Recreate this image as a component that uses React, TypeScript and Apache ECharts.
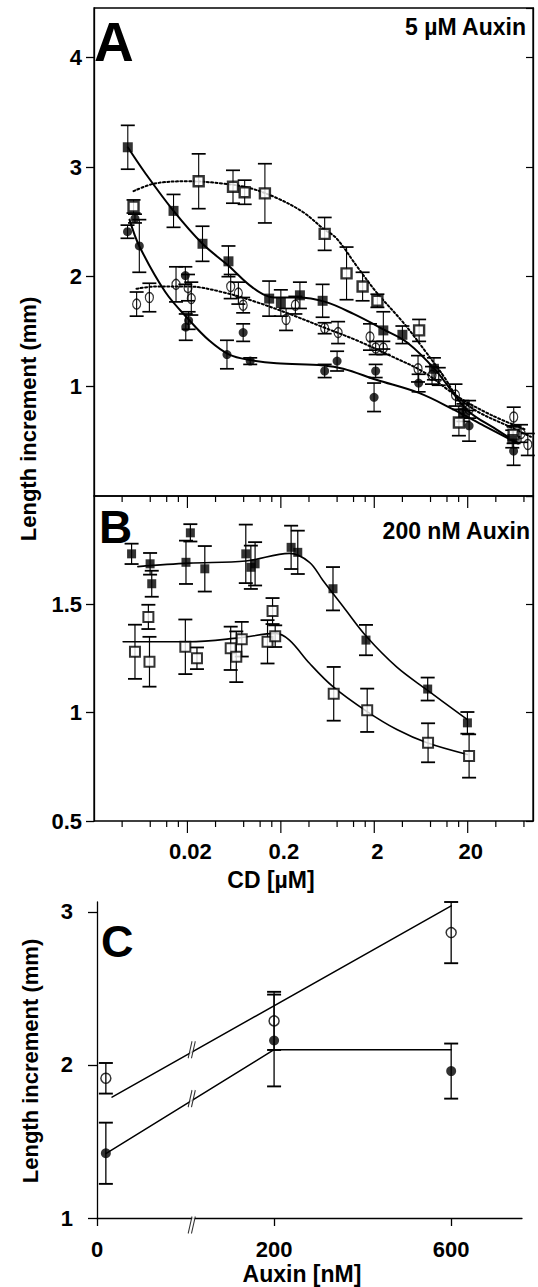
import React, { useEffect, useRef } from "react";
import * as echarts from "echarts";

// ---------------- Panel A : 5 µM Auxin (CD in µM, length increment in mm) ----------------
const aFilledSqCD = [0.0046, 0.0142, 0.029, 0.055, 0.15, 0.2, 0.32, 0.56, 2.5, 4.0, 8.7, 18, 60];
const aFilledSqLen = [3.18, 2.6, 2.3, 2.14, 1.8, 1.76, 1.83, 1.78, 1.51, 1.47, 1.16, 0.76, 0.52];
const aFilledSqErr = [0.2, 0.15, 0.16, 0.14, 0.16, 0.12, 0.12, 0.15, 0.17, 0.08, 0.1, 0.08, 0.08];

const aOpenSqCD = [0.0053, 0.0264, 0.0615, 0.082, 0.135, 0.589, 1.01, 1.5, 2.16, 6.04, 16.1, 62];
const aOpenSqLen = [2.64, 2.87, 2.82, 2.77, 2.76, 2.39, 2.03, 1.91, 1.78, 1.51, 0.67, 0.56];
const aOpenSqErr = [0.06, 0.25, 0.15, 0.11, 0.27, 0.15, 0.24, 0.13, 0.06, 0.1, 0.12, 0.08];

const aFilledCiCD = [0.00457, 0.00549, 0.00611, 0.019, 0.0206, 0.0192, 0.053, 0.079, 0.094, 0.589, 0.8, 2.07, 1.99, 5.97, 20.7, 62];
const aFilledCiLen = [2.41, 2.53, 2.28, 2.01, 1.6, 1.54, 1.29, 1.49, 1.23, 1.14, 1.23, 1.14, 0.9, 1.03, 0.64, 0.41];
const aFilledCiErr = [0.06, 0.04, 0.24, 0.08, 0.08, 0.12, 0.13, 0.08, 0.03, 0.06, 0.09, 0.06, 0.13, 0.08, 0.14, 0.13];

const aOpenCiCD = [0.00572, 0.00783, 0.0151, 0.0203, 0.022, 0.0581, 0.0702, 0.079, 0.2275, 0.286, 0.589, 0.82, 1.8, 2.07, 2.5, 5.88, 8.3, 9.8, 14.8, 17.5, 20.7, 62.2, 74.4, 88];
const aOpenCiLen = [1.75, 1.81, 1.93, 1.9, 1.8, 1.91, 1.85, 1.74, 1.61, 1.74, 1.53, 1.49, 1.45, 1.35, 1.35, 1.16, 1.1, 1.09, 0.92, 0.79, 0.79, 0.72, 0.57, 0.47];
const aOpenCiErr = [0.11, 0.13, 0.16, 0.12, 0.15, 0.11, 0.1, 0.07, 0.1, 0.08, 0.05, 0.1, 0.12, 0.06, 0.06, 0.12, 0.08, 0.08, 0.1, 0.08, 0.08, 0.09, 0.08, 0.1];

// fitted curves, panel A
const aSqCurveCD = [0.0046, 0.007, 0.0142, 0.029, 0.055, 0.1, 0.17, 0.3, 0.6, 1.2, 2.5, 4.5, 9, 20, 40, 70];
const aSqCurveLen = [3.18, 2.95, 2.6, 2.3, 2.1, 1.9, 1.81, 1.81, 1.77, 1.66, 1.52, 1.4, 1.15, 0.78, 0.61, 0.48];
const aCiCurveCD = [0.0048, 0.0061, 0.0116, 0.0206, 0.034, 0.056, 0.094, 0.18, 0.57, 0.93, 2.1, 6, 14, 30, 68];
const aCiCurveLen = [2.52, 2.28, 1.86, 1.61, 1.42, 1.29, 1.24, 1.21, 1.19, 1.16, 1.06, 0.94, 0.79, 0.64, 0.48];
const aOpenSqCurveCD = [0.0053, 0.009, 0.0206, 0.047, 0.091, 0.178, 0.344, 0.565, 0.787, 1.29, 2.1, 4.1, 6.76, 11.1, 15.4, 25.5, 53.6, 95];
const aOpenSqCurveLen = [2.78, 2.85, 2.87, 2.85, 2.81, 2.72, 2.59, 2.44, 2.35, 2.1, 1.86, 1.58, 1.34, 1.09, 0.91, 0.77, 0.64, 0.54];
const aOpenCiCurveCD = [0.0057, 0.009, 0.0206, 0.047, 0.108, 0.247, 0.565, 1.29, 2.96, 6.76, 15.4, 35.4, 81];
const aOpenCiCurveLen = [1.89, 1.91, 1.91, 1.86, 1.77, 1.66, 1.54, 1.42, 1.28, 1.13, 0.91, 0.74, 0.61];

// ---------------- Panel B : 200 nM Auxin ----------------
const bFilledCD = [0.00505, 0.00797, 0.0083, 0.0193, 0.0215, 0.0307, 0.0843, 0.0955, 0.106, 0.2576, 0.3035, 0.723, 1.63, 7.46, 19.86];
const bFilledLen = [1.733, 1.687, 1.595, 1.694, 1.83, 1.664, 1.733, 1.671, 1.687, 1.763, 1.74, 1.572, 1.335, 1.109, 0.953];
const bFilledErr = [0.047, 0.05, 0.06, 0.1, 0.04, 0.105, 0.135, 0.1, 0.1, 0.1, 0.1, 0.1, 0.07, 0.053, 0.05];

const bOpenCD = [0.00549, 0.00764, 0.00785, 0.019, 0.0253, 0.0581, 0.0667, 0.0763, 0.144, 0.163, 0.174, 0.736, 1.68, 7.53, 20.7];
const bOpenLen = [1.281, 1.442, 1.235, 1.304, 1.251, 1.297, 1.258, 1.339, 1.327, 1.469, 1.353, 1.087, 1.011, 0.861, 0.8];
const bOpenErr = [0.125, 0.056, 0.115, 0.126, 0.05, 0.1, 0.117, 0.08, 0.1, 0.06, 0.05, 0.124, 0.1, 0.09, 0.1];

const bUpperCurveCD = [0.0059, 0.0206, 0.0843, 0.247, 0.405, 0.565, 0.927, 1.66, 3.49, 7.34, 19.86];
const bUpperCurveLen = [1.674, 1.69, 1.7, 1.735, 1.694, 1.61, 1.49, 1.35, 1.21, 1.105, 0.968];
const bLowerCurveCD = [0.0041, 0.0206, 0.0714, 0.1775, 0.247, 0.405, 0.723, 1.66, 3.49, 7.34, 19.86];
const bLowerCurveLen = [1.327, 1.327, 1.345, 1.366, 1.335, 1.228, 1.12, 1.006, 0.922, 0.861, 0.807];

// CD axis ticks
const cdMajorTicks = [0.02, 0.2, 2, 20];
const cdTickLabels = ["0.02", "0.2", "2", "20"];
const cdMinorTicks = [0.004, 0.008, 0.012, 0.016, 0.04, 0.08, 0.12, 0.16, 0.4, 0.8, 1.2, 1.6, 4, 8, 12, 16, 40, 80];

// ---------------- Panel C : auxin dose (nM) ----------------
const cAuxin = [10, 200, 600];
const cOpenLen = [1.913, 2.288, 2.865];
const cOpenErr = [0.1, 0.19, 0.2];
const cFilledLen = [1.423, 2.16, 1.96];
const cFilledErr = [0.2, 0.3, 0.18];
const cUpperLineAuxin = [17, 600];
const cUpperLineLen = [1.79, 3.04];
const cLowerLineAuxin = [10, 200, 600];
const cLowerLineLen = [1.42, 2.1, 2.1];
const cBreakAuxin = 107;
const cBreakLen = [2.1, 1.78];
const cAuxinTicks = [0, 200, 600];
const cAuxinLabels = ["0", "200", "600"];
const cLenTicks = [1, 2, 3];

// ---------------- helpers ----------------
const FONT = '"Liberation Sans", Arial, Helvetica, sans-serif';
const CD_MIN = 0.002;
const CD_MAX = 100;
const A_MAX = 4.45;
const B_MIN = 0.5;
const B_MAX = 2.0;
const C_MIN = 1;
const C_MAX = 3.065;

// broken auxin axis: 0–200 nM and 200–600 nM get equal room
const auxinToAxis = (n: number) => (n <= 200 ? n / 200 : 1 + (n - 200) / 400);

const pts = (xs: number[], ys: number[]) => xs.map((x, i) => [x, ys[i]]);
const errPts = (xs: number[], ys: number[], es: number[]) => xs.map((x, i) => [x, ys[i], es[i]]);

function curve(xi: number, yi: number, data: number[][], dotted: boolean, width = 2, smooth: number | boolean = 0.35) {
  return {
    type: "line",
    xAxisIndex: xi,
    yAxisIndex: yi,
    data,
    smooth,
    symbol: "none",
    showSymbol: false,
    silent: true,
    z: 2,
    lineStyle: { color: "#000", width, type: dotted ? [2, 2.4] : "solid", cap: "round" },
  };
}

function errBars(xi: number, yi: number, data: number[][], cap = 7, w = 1.1) {
  return {
    type: "custom",
    xAxisIndex: xi,
    yAxisIndex: yi,
    data,
    silent: true,
    z: 3,
    encode: { x: 0, y: 1 },
    renderItem: (_p: any, api: any) => {
      const x = api.value(0);
      const y = api.value(1);
      const e = api.value(2);
      const hi = api.coord([x, y + e]);
      const lo = api.coord([x, y - e]);
      const s = { stroke: "#000", lineWidth: w };
      const sc = { stroke: "#000", lineWidth: w + 0.6 };
      return {
        type: "group",
        children: [
          { type: "line", shape: { x1: hi[0], y1: hi[1], x2: lo[0], y2: lo[1] }, style: s },
          { type: "line", shape: { x1: hi[0] - cap, y1: hi[1], x2: hi[0] + cap, y2: hi[1] }, style: sc },
          { type: "line", shape: { x1: lo[0] - cap, y1: lo[1], x2: lo[0] + cap, y2: lo[1] }, style: sc },
        ],
      };
    },
  };
}

function marks(xi: number, yi: number, data: number[][], symbol: string, size: number | number[], filled: boolean, bw = 1.5, fill = "#fff") {
  return {
    type: "scatter",
    xAxisIndex: xi,
    yAxisIndex: yi,
    data,
    symbol,
    symbolSize: size,
    silent: true,
    z: 4,
    itemStyle: filled ? { color: "#000", borderWidth: 0 } : { color: fill, borderColor: "#000", borderWidth: bw },
  };
}

function buildOption() {
  const axisLine = { show: true, lineStyle: { color: "#000", width: 1.3 } };
  const labelStyle = { color: "#000", fontFamily: FONT, fontWeight: "bold", fontSize: 22 };
  const hiddenLog = (gridIndex: number) => ({
    gridIndex,
    type: "log",
    logBase: 10,
    min: CD_MIN,
    max: CD_MAX,
    axisLine: { show: false },
    axisTick: { show: false },
    axisLabel: { show: false },
    splitLine: { show: false },
  });

  const tickData = [
    ...cdMajorTicks.map((v, i) => [v, 1.25, 1, i]),
    ...cdMinorTicks.map((v) => [v, 1.25, 0, -1]),
  ];

  const cBreakPts = cBreakLen.map((y) => [auxinToAxis(cBreakAuxin), y]);
  const cAxisBreak = [[auxinToAxis(cBreakAuxin), C_MIN]];
  const slashPath = "path://M0,20L7,0M6,20L13,0";
  const maskPath = "path://M0,20L7,0L13,0L6,20Z";
  const cTickPos = cAuxinTicks.map(auxinToAxis);
  const breakData = () => [...cBreakPts, ...cAxisBreak.map((p) => ({ value: p, symbolOffset: [0, 7] }))];

  const bigText = (text: string, x: number, y: number, size: number, align = "left", rotation = 0) => ({
    type: "text",
    x,
    y,
    rotation,
    silent: true,
    style: { text, fill: "#000", font: `bold ${size}px ${FONT}`, align, verticalAlign: "middle" },
  });

  return {
    animation: false,
    backgroundColor: "#fff",
    grid: [
      { left: 94, top: 8, width: 439, height: 488, show: true, borderColor: "#000", borderWidth: 1.3, backgroundColor: "transparent" },
      { left: 94, top: 496, width: 439, height: 325, show: true, borderColor: "#000", borderWidth: 1.3, backgroundColor: "transparent" },
      { left: 97, top: 902, width: 425, height: 316, show: false },
    ],
    xAxis: [
      hiddenLog(0),
      hiddenLog(1),
      {
        gridIndex: 2,
        type: "value",
        min: 0,
        max: 2.4,
        interval: 1,
        axisLine,
        axisTick: { show: true, length: 8, lineStyle: { color: "#000", width: 1.3 }, customValues: cTickPos },
        axisLabel: {
          ...labelStyle,
          margin: 20,
          customValues: cTickPos,
          formatter: (v: number) => {
            const i = cTickPos.findIndex((p) => Math.abs(p - v) < 1e-6);
            return i >= 0 ? cAuxinLabels[i] : "";
          },
        },
        splitLine: { show: false },
      },
    ],
    yAxis: [
      {
        gridIndex: 0,
        type: "value",
        min: 0,
        max: A_MAX,
        interval: 1,
        axisLine,
        axisTick: { show: true, length: 8, lineStyle: { color: "#000", width: 1.3 } },
        axisLabel: { ...labelStyle, margin: 12, showMinLabel: false, showMaxLabel: false },
        splitLine: { show: false },
      },
      {
        gridIndex: 0,
        type: "value",
        position: "right",
        min: 0,
        max: A_MAX,
        interval: 1,
        axisLine,
        axisTick: { show: true, inside: true, length: 7, lineStyle: { color: "#000", width: 1.2 } },
        axisLabel: { show: false },
        splitLine: { show: false },
      },
      {
        gridIndex: 1,
        type: "value",
        min: B_MIN,
        max: B_MAX,
        interval: 0.5,
        axisLine,
        axisTick: { show: true, length: 8, lineStyle: { color: "#000", width: 1.3 } },
        axisLabel: { ...labelStyle, margin: 12, showMaxLabel: false },
        splitLine: { show: false },
      },
      {
        gridIndex: 1,
        type: "value",
        position: "right",
        min: B_MIN,
        max: B_MAX,
        interval: 0.5,
        axisLine,
        axisTick: { show: true, inside: true, length: 7, lineStyle: { color: "#000", width: 1.2 } },
        axisLabel: { show: false },
        splitLine: { show: false },
      },
      {
        gridIndex: 2,
        type: "value",
        min: C_MIN,
        max: C_MAX,
        interval: 1,
        axisLine,
        axisTick: { show: true, length: 9, lineStyle: { color: "#000", width: 1.3 }, customValues: cLenTicks },
        axisLabel: { ...labelStyle, margin: 24, customValues: cLenTicks },
        splitLine: { show: false },
      },
    ],
    series: [
      // ---- A curves
      curve(0, 0, pts(aSqCurveCD, aSqCurveLen), false, 2),
      curve(0, 0, pts(aCiCurveCD, aCiCurveLen), false, 2),
      curve(0, 0, pts(aOpenSqCurveCD, aOpenSqCurveLen), true, 2),
      curve(0, 0, pts(aOpenCiCurveCD, aOpenCiCurveLen), true, 2),
      // ---- A error bars
      errBars(0, 0, errPts(aFilledSqCD, aFilledSqLen, aFilledSqErr)),
      errBars(0, 0, errPts(aOpenSqCD, aOpenSqLen, aOpenSqErr)),
      errBars(0, 0, errPts(aFilledCiCD, aFilledCiLen, aFilledCiErr)),
      errBars(0, 0, errPts(aOpenCiCD, aOpenCiLen, aOpenCiErr)),
      // ---- A symbols
      marks(0, 0, pts(aOpenSqCD, aOpenSqLen), "rect", 10, false, 2.4),
      marks(0, 0, pts(aFilledSqCD, aFilledSqLen), "rect", 10, true),
      marks(0, 0, pts(aFilledCiCD, aFilledCiLen), "circle", 9, true),
      marks(0, 0, pts(aOpenCiCD, aOpenCiLen), "circle", [8, 10], false, 1.3, "rgba(255,255,255,0)"),
      // ---- B curves
      curve(1, 2, pts(bUpperCurveCD, bUpperCurveLen), false, 1.6),
      curve(1, 2, pts(bLowerCurveCD, bLowerCurveLen), false, 1.6),
      errBars(1, 2, errPts(bFilledCD, bFilledLen, bFilledErr), 7, 1.2),
      errBars(1, 2, errPts(bOpenCD, bOpenLen, bOpenErr), 7, 1.2),
      marks(1, 2, pts(bOpenCD, bOpenLen), "rect", 10, false, 2),
      marks(1, 2, pts(bFilledCD, bFilledLen), "rect", 9, true),
      // ---- CD axis ticks + labels (shared between A and B)
      {
        type: "custom",
        xAxisIndex: 1,
        yAxisIndex: 2,
        data: tickData,
        silent: true,
        z: 5,
        encode: { x: 0, y: 1 },
        renderItem: (_p: any, api: any) => {
          const v = api.value(0);
          const major = api.value(2) === 1;
          const li = api.value(3);
          const top = api.coord([v, B_MAX]);
          const bot = api.coord([v, B_MIN]);
          const len = major ? 12 : 6;
          const st = { stroke: "#000", lineWidth: 1.2 };
          const children: any[] = [
            { type: "line", shape: { x1: top[0], y1: top[1], x2: top[0], y2: top[1] + len }, style: st },
            { type: "line", shape: { x1: bot[0], y1: bot[1], x2: bot[0], y2: bot[1] + len }, style: st },
          ];
          if (li >= 0) {
            children.push({
              type: "text",
              x: bot[0] + 3,
              y: bot[1] + 30,
              style: { text: cdTickLabels[li], fill: "#000", font: `bold 22px ${FONT}`, align: "center", verticalAlign: "middle" },
            });
          }
          return { type: "group", children };
        },
      },
      // ---- C
      curve(2, 4, pts(cUpperLineAuxin.map(auxinToAxis), cUpperLineLen), false, 1.5, false),
      curve(2, 4, pts(cLowerLineAuxin.map(auxinToAxis), cLowerLineLen), false, 1.5, false),
      errBars(2, 4, errPts(cAuxin.map(auxinToAxis), cOpenLen, cOpenErr), 7, 1.3),
      errBars(2, 4, errPts(cAuxin.map(auxinToAxis), cFilledLen, cFilledErr), 7, 1.3),
      marks(2, 4, pts(cAuxin.map(auxinToAxis), cFilledLen), "circle", 10, true),
      marks(2, 4, pts(cAuxin.map(auxinToAxis), cOpenLen), "circle", 10, false, 1.5, "rgba(255,255,255,0)"),
      {
        type: "scatter",
        xAxisIndex: 2,
        yAxisIndex: 4,
        data: breakData(),
        symbol: maskPath,
        symbolSize: [11, 17],
        symbolKeepAspect: true,
        silent: true,
        z: 6,
        itemStyle: { color: "#fff", borderWidth: 0 },
      },
      {
        type: "scatter",
        xAxisIndex: 2,
        yAxisIndex: 4,
        data: breakData(),
        symbol: slashPath,
        symbolSize: [11, 17],
        symbolKeepAspect: true,
        silent: true,
        z: 7,
        itemStyle: { color: "rgba(0,0,0,0)", borderColor: "#000", borderWidth: 1.3 },
      },
    ],
    graphic: [
      bigText("A", 94, 42, 55),
      bigText("B", 99, 527, 46),
      bigText("C", 101, 941, 45),
      bigText("5 µM Auxin", 526, 27, 23, "right"),
      bigText("200 nM Auxin", 530, 531, 23, "right"),
      bigText("CD [µM]", 271, 880, 23, "center"),
      bigText("Auxin [nM]", 302, 1274, 23, "center"),
      bigText("Length increment (mm)", 28, 419, 22, "center", Math.PI / 2),
      bigText("Length increment (mm)", 30, 1061, 22, "center", Math.PI / 2),
    ],
  };
}

export default function App() {
  const ref = useRef<HTMLDivElement>(null);
  useEffect(() => {
    if (!ref.current) return;
    const chart = echarts.init(ref.current, null, { renderer: "svg" });
    chart.setOption(buildOption() as any);
    return () => chart.dispose();
  }, []);
  return (
    <div
      ref={ref}
      style={{ position: "absolute", left: 0, top: 0, width: 538, height: 1287, background: "#fff" }}
    />
  );
}
